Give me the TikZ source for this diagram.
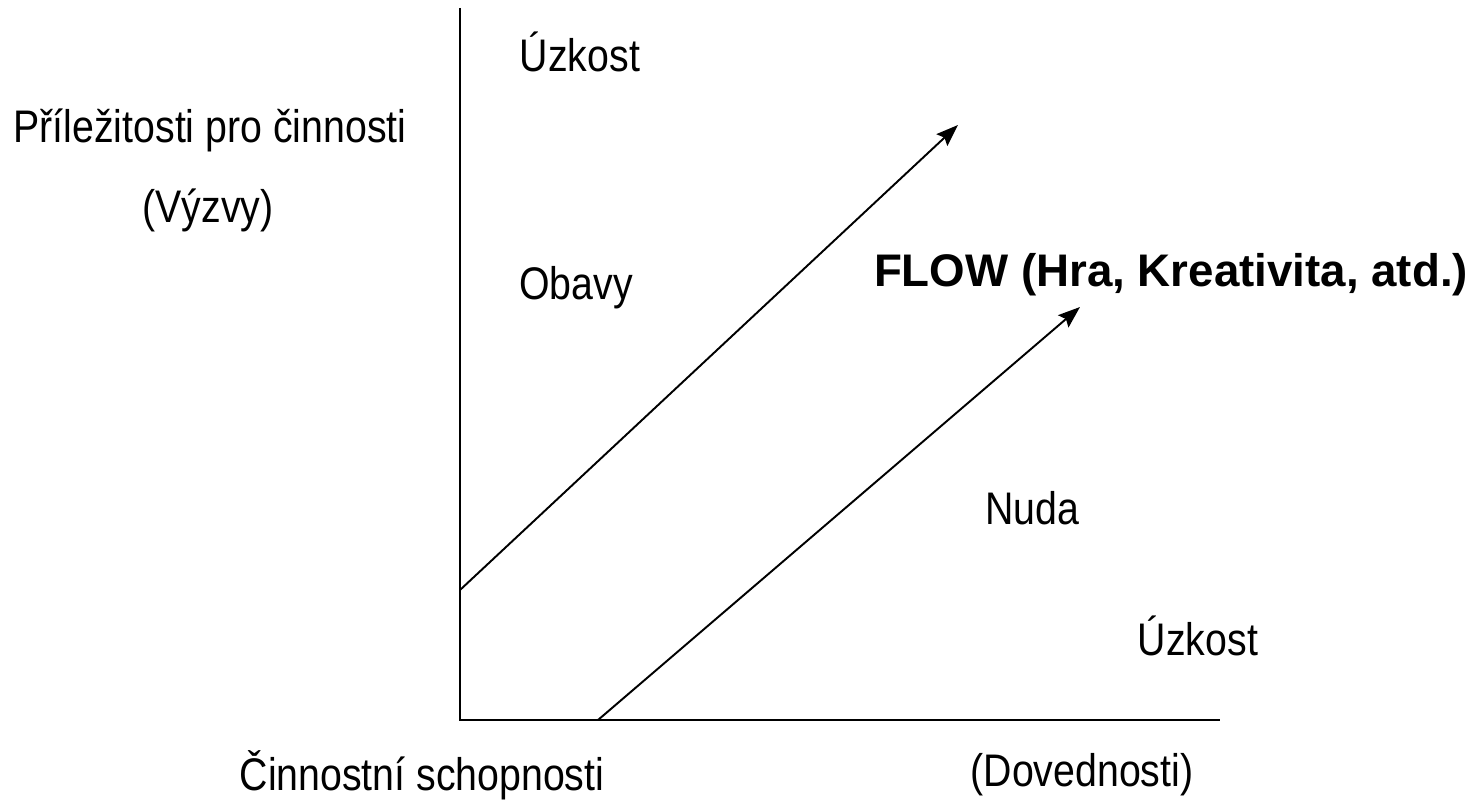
\documentclass[tikz,border=0pt]{standalone}
\usepackage{fontspec}
\setmainfont{Liberation Sans}[FakeStretch=0.86]
\newfontfamily\wideflow{Liberation Sans}
\usetikzlibrary{arrows.meta}
\tikzset{
	lbl/.style={font=\fontsize{26}{30}\selectfont, inner sep=0pt},
	axis/.style={line width=1.6pt},
	flowarrow/.style={line width=1.1pt, -{Stealth[length=0.44cm, width=0.32cm, inset=0.07cm]}}
}
\begin{document}
\begin{tikzpicture}[x=0.02cm, y=-0.02cm]
		\useasboundingbox (0,0) rectangle (1480,803);

		\coordinate (origin) at (460,720);
		\coordinate (ytop) at (460,8);
		\coordinate (xend) at (1220,720);
		\coordinate (upstart) at (460,590);
		\coordinate (upend) at (958,125);
		\coordinate (lowstart) at (598,720);
		\coordinate (lowend) at (1080,307);

		\draw[axis] (ytop) -- (origin) -- (xend);

		\draw[flowarrow] (upstart) -- (upend);
		\draw[flowarrow] (lowstart) -- (lowend);

		\node[lbl] (anxtop) at (580,52) {Úzkost};
		\node[lbl] (chall) at (210,130) {Příležitosti pro činnosti};
		\node[lbl] (challsub) at (208,210) {(Výzvy)};
		\node[lbl] (worry) at (576,288) {Obavy};
		\node[lbl, font=\fontsize{26}{30}\selectfont\wideflow\bfseries] (flow) at (1171,275) {FLOW (Hra, Kreativita, atd.)};
		\node[lbl] (bored) at (1032,508) {Nuda};
		\node[lbl] (anxlow) at (1198,636) {Úzkost};
		\node[lbl] (skill) at (422,775) {Činnostní schopnosti};
		\node[lbl] (skillsub) at (1082,775) {(Dovednosti)};
	\end{tikzpicture}
\end{document}
